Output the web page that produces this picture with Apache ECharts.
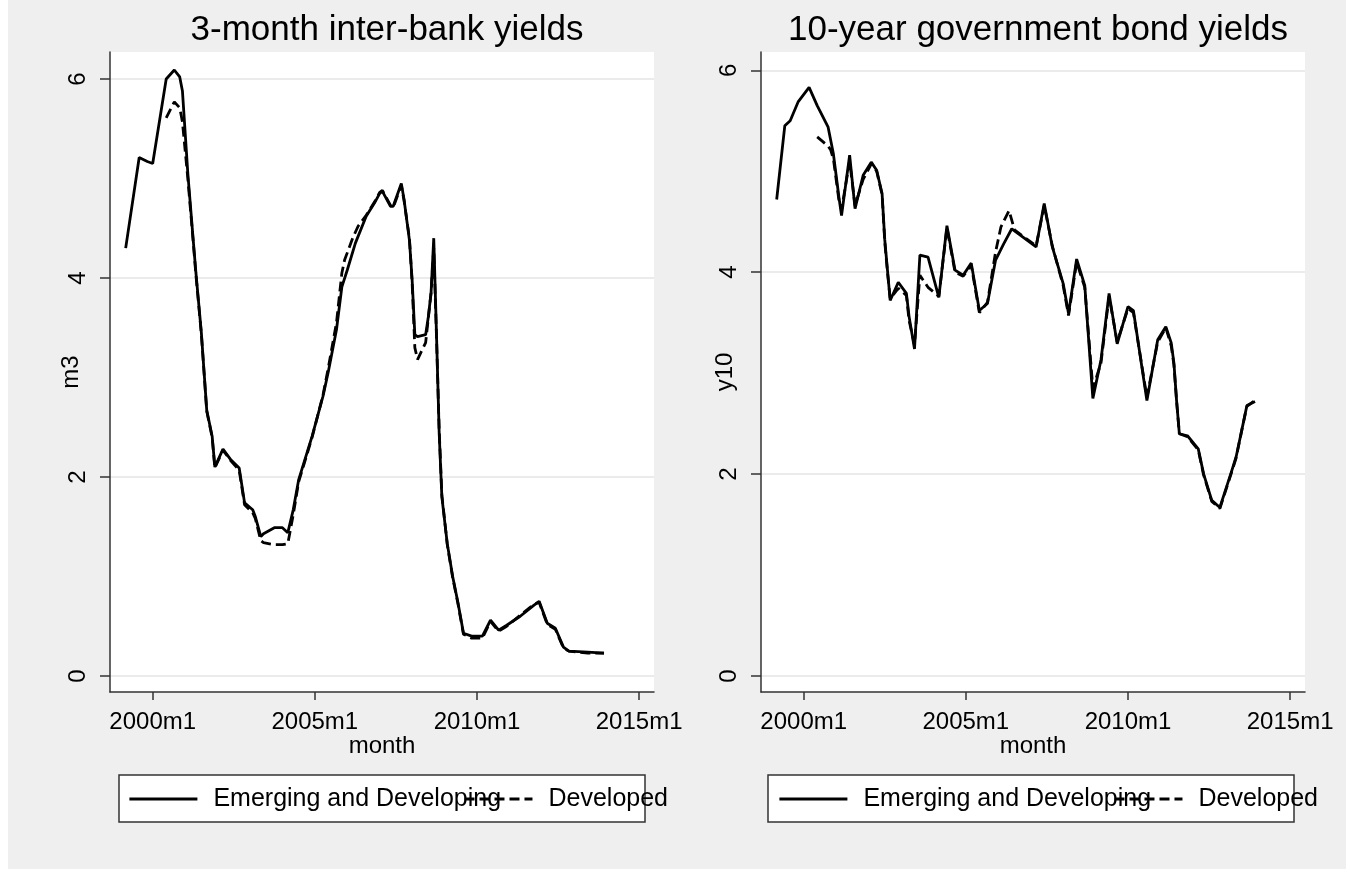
<!DOCTYPE html>
<html>
<head>
<meta charset="utf-8">
<title>Inter-bank and government bond yields</title>
<script src="https://cdn.jsdelivr.net/npm/echarts@6/dist/echarts.min.js"></script>
<style>
  html, body { margin: 0; padding: 0; background: #ffffff; }
  #frame { position: absolute; left: 8px; top: 0; width: 1338px; height: 869px; background: #efefef; }
  #chart { position: absolute; left: 0; top: 0; width: 1346px; height: 869px; }
</style>
</head>
<body>
<div id="frame"></div>
<div id="chart"></div>
<script>
// Panel titles, axis titles and legend entries
const panelTitles = ['3-month inter-bank yields', '10-year government bond yields'];
const yTitles = ['m3', 'y10'];
const xTitle = 'month';
const seriesNames = ['Emerging and Developing', 'Developed'];

// Axis ticks: y values, and x ticks in months counted from 2000m1
const yTicks = [0, 2, 4, 6];
const xTickMonths = [0, 60, 120, 180];

// 3-month inter-bank yields, [month, value]
const m3Emerging = [
  ['1999m3', 4.30], ['1999m8', 5.21], ['1999m11', 5.17], ['2000m1', 5.15],
  ['2000m6', 6.00], ['2000m9', 6.09], ['2000m11', 6.02], ['2000m12', 5.88],
  ['2001m2', 5.05], ['2001m4', 4.38], ['2001m5', 4.05], ['2001m7', 3.45],
  ['2001m8', 3.06], ['2001m9', 2.67], ['2001m11', 2.41], ['2001m12', 2.10],
  ['2002m3', 2.28], ['2002m6', 2.17], ['2002m9', 2.09], ['2002m11', 1.74],
  ['2003m2', 1.67], ['2003m3', 1.60], ['2003m5', 1.40], ['2003m6', 1.43],
  ['2003m10', 1.49], ['2004m1', 1.49], ['2004m3', 1.44], ['2004m5', 1.67],
  ['2004m7', 1.97], ['2004m12', 2.41], ['2005m4', 2.81], ['2005m6', 3.06],
  ['2005m9', 3.48], ['2005m11', 3.91], ['2006m1', 4.08], ['2006m4', 4.35],
  ['2006m8', 4.62], ['2006m11', 4.75], ['2007m1', 4.85], ['2007m2', 4.87],
  ['2007m5', 4.72], ['2007m6', 4.72], ['2007m9', 4.95], ['2007m10', 4.79],
  ['2007m12', 4.38], ['2008m1', 3.98], ['2008m2', 3.43], ['2008m3', 3.41],
  ['2008m6', 3.43], ['2008m7', 3.61], ['2008m8', 3.85], ['2008m9', 4.40],
  ['2008m10', 3.45], ['2008m11', 2.45], ['2008m12', 1.80], ['2009m2', 1.33],
  ['2009m4', 1.00], ['2009m6', 0.73], ['2009m8', 0.43], ['2009m11', 0.40],
  ['2010m3', 0.40], ['2010m6', 0.56], ['2010m9', 0.46], ['2010m12', 0.51],
  ['2011m5', 0.60], ['2011m10', 0.71], ['2011m12', 0.75], ['2012m3', 0.53],
  ['2012m6', 0.48], ['2012m9', 0.29], ['2012m11', 0.25], ['2013m6', 0.24],
  ['2013m12', 0.23]
];
const m3Developed = [
  ['2000m6', 5.61], ['2000m9', 5.77], ['2000m11', 5.71], ['2000m12', 5.57],
  ['2001m2', 5.00], ['2001m4', 4.36], ['2001m5', 4.03], ['2001m7', 3.44],
  ['2001m8', 3.05], ['2001m9', 2.66], ['2001m11', 2.40], ['2001m12', 2.09],
  ['2002m3', 2.27], ['2002m6', 2.16], ['2002m9', 2.07], ['2002m11', 1.72],
  ['2003m2', 1.64], ['2003m3', 1.58], ['2003m5', 1.36], ['2003m6', 1.34],
  ['2003m10', 1.32], ['2004m1', 1.32], ['2004m3', 1.33], ['2004m5', 1.62],
  ['2004m7', 1.95], ['2004m12', 2.40], ['2005m4', 2.82], ['2005m6', 3.10],
  ['2005m9', 3.55], ['2005m11', 4.05], ['2005m12', 4.18], ['2006m3', 4.40],
  ['2006m5', 4.52], ['2006m8', 4.63], ['2006m11', 4.76], ['2007m1', 4.86],
  ['2007m2', 4.88], ['2007m5', 4.73], ['2007m6', 4.71], ['2007m9', 4.93],
  ['2007m10', 4.78], ['2007m12', 4.40], ['2008m1', 3.95], ['2008m2', 3.30],
  ['2008m3', 3.18], ['2008m6', 3.35], ['2008m7', 3.60], ['2008m8', 3.85],
  ['2008m9', 4.30], ['2008m10', 3.42], ['2008m11', 2.48], ['2008m12', 1.82],
  ['2009m2', 1.32], ['2009m4', 0.99], ['2009m6', 0.72], ['2009m8', 0.42],
  ['2009m11', 0.38], ['2010m3', 0.38], ['2010m6', 0.55], ['2010m9', 0.45],
  ['2010m12', 0.50], ['2011m5', 0.61], ['2011m10', 0.72], ['2011m12', 0.74],
  ['2012m3', 0.52], ['2012m6', 0.47], ['2012m9', 0.28], ['2012m11', 0.25],
  ['2013m6', 0.23], ['2013m12', 0.23]
];

// 10-year government bond yields, [month, value]
const y10Emerging = [
  ['1999m3', 4.72], ['1999m6', 5.45], ['1999m8', 5.50], ['1999m11', 5.69],
  ['2000m3', 5.83], ['2000m6', 5.65], ['2000m10', 5.44], ['2000m12', 5.17],
  ['2001m2', 4.75], ['2001m3', 4.56], ['2001m6', 5.16], ['2001m8', 4.63],
  ['2001m11', 4.96], ['2002m2', 5.09], ['2002m4', 5.01], ['2002m6', 4.78],
  ['2002m7', 4.32], ['2002m8', 4.02], ['2002m9', 3.72], ['2002m12', 3.90],
  ['2003m3', 3.79], ['2003m4', 3.56], ['2003m6', 3.24], ['2003m8', 4.17],
  ['2003m11', 4.15], ['2004m3', 3.75], ['2004m6', 4.46], ['2004m9', 4.02],
  ['2004m12', 3.97], ['2005m3', 4.09], ['2005m6', 3.62], ['2005m9', 3.69],
  ['2005m12', 4.12], ['2006m3', 4.28], ['2006m6', 4.43], ['2006m10', 4.35],
  ['2007m3', 4.25], ['2007m6', 4.68], ['2007m9', 4.25], ['2008m1', 3.89],
  ['2008m3', 3.59], ['2008m6', 4.13], ['2008m9', 3.87], ['2008m12', 2.75],
  ['2009m3', 3.13], ['2009m6', 3.79], ['2009m9', 3.29], ['2010m1', 3.66],
  ['2010m3', 3.62], ['2010m8', 2.73], ['2010m12', 3.33], ['2011m3', 3.46],
  ['2011m5', 3.30], ['2011m6', 3.10], ['2011m7', 2.72], ['2011m8', 2.40],
  ['2011m11', 2.38], ['2012m3', 2.25], ['2012m5', 2.00], ['2012m8', 1.74],
  ['2012m11', 1.67], ['2013m3', 2.00], ['2013m5', 2.17], ['2013m8', 2.55],
  ['2013m9', 2.68], ['2013m12', 2.72]
];
const y10Developed = [
  ['2000m6', 5.34], ['2000m10', 5.25], ['2000m11', 5.21], ['2000m12', 5.12],
  ['2001m2', 4.72], ['2001m3', 4.62], ['2001m6', 5.10], ['2001m8', 4.66],
  ['2001m11', 4.92], ['2002m2', 5.07], ['2002m4', 5.00], ['2002m6', 4.77],
  ['2002m7', 4.30], ['2002m8', 4.00], ['2002m9', 3.74], ['2002m12', 3.84],
  ['2003m3', 3.77], ['2003m4', 3.52], ['2003m6', 3.28], ['2003m8', 3.97],
  ['2003m11', 3.85], ['2004m3', 3.76], ['2004m6', 4.44], ['2004m9', 4.00],
  ['2004m12', 3.96], ['2005m3', 4.07], ['2005m6', 3.60], ['2005m9', 3.70],
  ['2005m12', 4.20], ['2006m2', 4.45], ['2006m5', 4.61], ['2006m7', 4.42],
  ['2006m10', 4.36], ['2007m3', 4.26], ['2007m6', 4.66], ['2007m9', 4.26],
  ['2008m1', 3.87], ['2008m3', 3.57], ['2008m6', 4.10], ['2008m9', 3.85],
  ['2008m12', 2.85], ['2009m3', 3.10], ['2009m6', 3.76], ['2009m9', 3.31],
  ['2010m1', 3.64], ['2010m3', 3.60], ['2010m8', 2.76], ['2010m12', 3.31],
  ['2011m3', 3.45], ['2011m5', 3.27], ['2011m6', 3.08], ['2011m7', 2.72],
  ['2011m8', 2.40], ['2011m11', 2.37], ['2012m3', 2.24], ['2012m5', 1.99],
  ['2012m8', 1.73], ['2012m11', 1.66], ['2013m3', 1.99], ['2013m5', 2.16],
  ['2013m8', 2.55], ['2013m9', 2.67], ['2013m12', 2.73]
];

// "YYYYmM" -> months since 2000m1
function monthIndex(label) {
  const parts = label.split('m');
  return (Number(parts[0]) - 2000) * 12 + (Number(parts[1]) - 1);
}
function monthLabel(idx) {
  const y = 2000 + Math.floor(idx / 12);
  const m = idx - (y - 2000) * 12 + 1;
  return y + 'm' + m;
}
function toPoints(rows) {
  return rows.map(r => [monthIndex(r[0]), r[1]]);
}

const FONT = '"Liberation Sans", Arial, sans-serif';
const INK = '#000000';
const AXIS = '#333333';
const LINE_W = 2.8;

const panels = [
  { left: 110, titleX: 382, legendX: 128, boxX: 119, yMin: -0.161, yMax: 6.271, nameGap: 27,
    data: [m3Emerging, m3Developed] },
  { left: 761, titleX: 1033, legendX: 778, boxX: 768, yMin: -0.158, yMax: 6.181, nameGap: 24,
    data: [y10Emerging, y10Developed] }
];

const option = {
  animation: false,
  backgroundColor: 'transparent',
  textStyle: { fontFamily: FONT, color: INK },
  title: panels.map((p, i) => ({
    text: panelTitles[i],
    left: p.titleX,
    top: 8,
    textAlign: 'center',
    textStyle: { fontFamily: FONT, fontSize: 35, fontWeight: 'normal', color: INK }
  })),
  grid: panels.map(p => ({
    left: p.left, top: 52, width: 544, height: 640,
    show: true, backgroundColor: '#ffffff', borderWidth: 0
  })),
  xAxis: panels.map((p, i) => ({
    type: 'value', gridIndex: i, min: -15.8, max: 185.5,
    name: xTitle, nameLocation: 'middle', nameGap: 42, nameMoveOverlap: false,
    nameTextStyle: { fontFamily: FONT, fontSize: 24, color: INK },
    axisLine: { show: true, onZero: false, lineStyle: { color: AXIS, width: 1.5 } },
    axisTick: { show: true, length: 8, customValues: xTickMonths, lineStyle: { color: AXIS, width: 1.5 } },
    axisLabel: { customValues: xTickMonths, margin: 18, fontFamily: FONT, fontSize: 24, color: INK,
      formatter: v => monthLabel(v) },
    splitLine: { show: false }
  })),
  yAxis: panels.map((p, i) => ({
    type: 'value', gridIndex: i, min: p.yMin, max: p.yMax,
    name: yTitles[i], nameLocation: 'middle', nameGap: p.nameGap, nameRotate: 90,
    nameMoveOverlap: false,
    nameTextStyle: { fontFamily: FONT, fontSize: 24, color: INK },
    axisLine: { show: true, onZero: false, lineStyle: { color: AXIS, width: 1.5 } },
    axisTick: { show: true, length: 10, customValues: yTicks, lineStyle: { color: AXIS, width: 1.5 } },
    axisLabel: { customValues: yTicks, rotate: 90, margin: 20, fontFamily: FONT, fontSize: 24, color: INK },
    splitLine: { show: true, lineStyle: { color: '#e4e4e4', width: 1.5 } }
  })),
  legend: panels.map(p => ({
    data: seriesNames,
    left: p.legendX, top: 785, padding: 0,
    orient: 'horizontal',
    itemWidth: 68, itemHeight: 28, itemGap: -38,
    selectedMode: false,
    itemStyle: { opacity: 0, borderWidth: 0 },
    lineStyle: { width: LINE_W, color: INK },
    textStyle: { fontFamily: FONT, fontSize: 25, color: INK, padding: [0, 0, 0, 11], lineHeight: 28 }
  })),
  graphic: panels.map(p => ({
    type: 'rect', z: 1,
    shape: { x: p.boxX, y: 775, width: 526, height: 47 },
    style: { fill: '#ffffff', stroke: AXIS, lineWidth: 1.5 }
  })),
  series: []
};

panels.forEach((p, i) => {
  p.data.forEach((rows, k) => {
    option.series.push({
      name: seriesNames[k],
      type: 'line',
      xAxisIndex: i, yAxisIndex: i,
      data: toPoints(rows),
      symbol: 'none', showSymbol: false,
      z: 2 + k,
      lineStyle: { color: INK, width: LINE_W, type: k === 0 ? 'solid' : [10, 5] },
      itemStyle: { color: INK }
    });
  });
});

const chart = echarts.init(document.getElementById('chart'), null, { renderer: 'canvas' });
chart.setOption(option);
</script>
</body>
</html>
